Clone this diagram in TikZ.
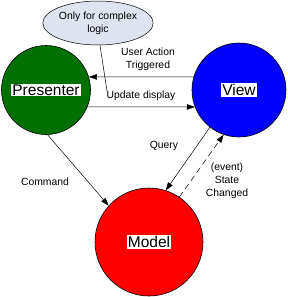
\documentclass[tikz,border=0pt]{standalone}
\usepackage{fontspec}
\setmainfont{Liberation Sans}
\usetikzlibrary{arrows.meta,shapes.geometric}
\definecolor{pgreen}{RGB}{0,112,0}
\definecolor{vblue}{RGB}{0,0,255}
\definecolor{mred}{RGB}{255,0,0}
\definecolor{ebg}{RGB}{222,228,240}
\begin{document}
\begin{tikzpicture}[x=1pt,y=-1pt,
  ball/.style={circle,draw=black,line width=0.6pt,inner sep=0pt},
  ttl/.style={fill=white,inner sep=1pt,font=\fontsize{15.5}{17}\selectfont},
  lbl/.style={font=\fontsize{10.4}{13}\selectfont,align=center,inner sep=0pt},
  arr/.style={-{Triangle[length=8pt,width=5.5pt]},line width=0.5pt}]
\useasboundingbox (0,0) rectangle (288,297);
\node[ball,fill=pgreen,minimum size=89pt] (P) at (46,90) {};
\node[ball,fill=vblue,minimum size=94pt] (V) at (239,90) {};
\node[ball,fill=mred,minimum size=108pt] (M) at (149,242) {};
\node[ttl] (Pt) at (P) {Presenter};
\node[ttl] (Vt) at (V) {View};
\node[ttl] (Mt) at (M) {Model};
\node[ellipse,draw=black,line width=0.5pt,fill=ebg,minimum width=90pt,minimum height=44pt,inner sep=0pt,
  font=\fontsize{10.4}{13}\selectfont,align=center] (E) at (98,23) {Only for complex\\logic};
\draw[arr] (V.164) -- (P.17);
\draw[arr] (P.-22.7) -- (V.201);
\coordinate (Ep) at (107,91);
\draw[line width=0.5pt] (E.south) ++(2,0) -- (Ep);
\draw[arr] (P.-88) -- (M.138);
\draw[arr] (V.232) -- (M.72);
\draw[arr,dashed,dash pattern=on 6pt off 4pt] (M.56) -- (V.251);
\node[lbl] (l1) at (148,59.5) {User Action\\Triggered};
\node[lbl] (l2) at (141,96) {Update display};
\node[lbl] (l3) at (45,182) {Command};
\node[lbl] (l4) at (164,146) {Query};
\node[lbl] (l5) at (227,181) {(event)\\State\\Changed};
\end{tikzpicture}
\end{document}
